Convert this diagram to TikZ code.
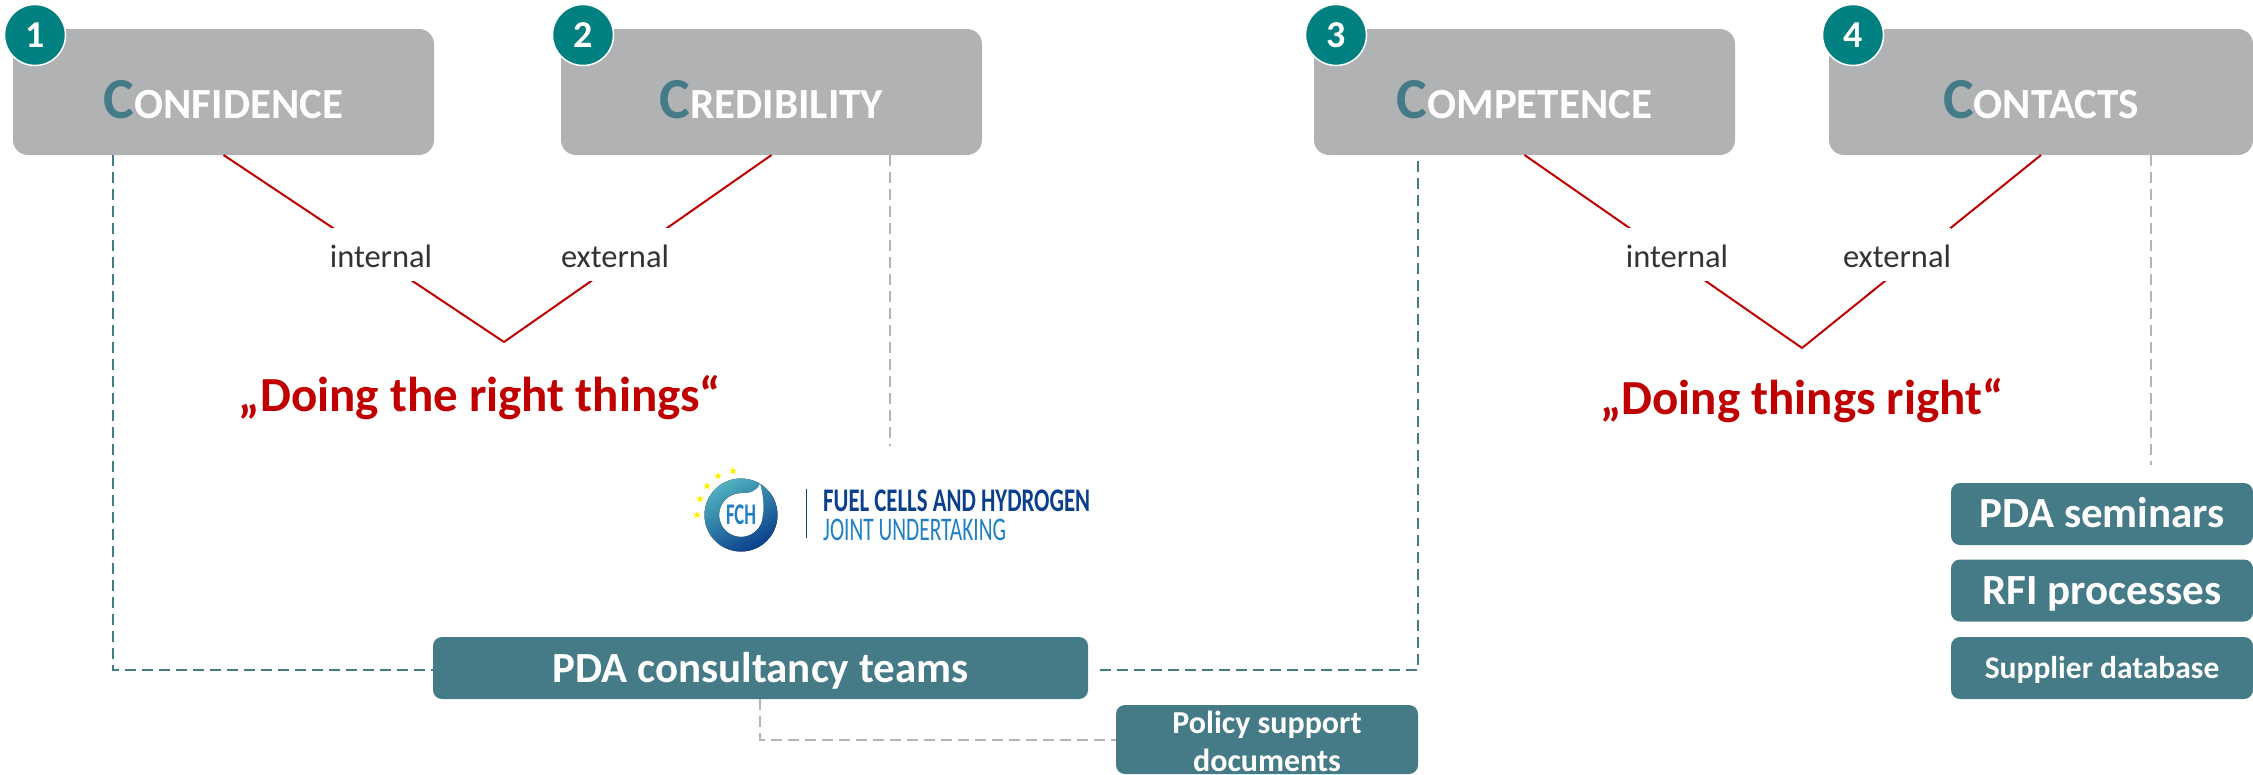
\documentclass[tikz,border=0pt]{standalone}
\usepackage{fontspec}
\setmainfont{Carlito}
\usetikzlibrary{shapes.geometric}
\definecolor{boxgray}{HTML}{B1B2B4}
\definecolor{boxteal}{HTML}{457B87}
\definecolor{numteal}{HTML}{008080}
\definecolor{linered}{HTML}{C00000}
\definecolor{dashgray}{HTML}{B5B5B5}
\definecolor{logoblue}{HTML}{0B3F8C}
\definecolor{logolight}{HTML}{1E7FC4}
\definecolor{logoteal}{HTML}{4FB0BE}
\newcommand{\lowered}[2]{\raisebox{-#1pt}[0pt][0pt]{#2}}
\newcommand{\fourc}[2]{\lowered{26}{{\color{boxteal}\fontsize{58}{60}\selectfont #1}\fontsize{43}{60}\selectfont #2}}
\tikzset{
  headbox/.style={fill=boxgray,rounded corners=15pt,minimum width=421pt,minimum height=126pt,outer sep=0pt,text=white,font=\bfseries},
  numdot/.style={circle,fill=numteal,draw=white,line width=1.5pt,minimum size=61pt,inner sep=0pt,text=white,font=\bfseries\fontsize{38}{40}\selectfont},
  tealbox/.style={fill=boxteal,rounded corners=9pt,outer sep=0pt,text=white,font=\bfseries\fontsize{43}{46}\selectfont,minimum height=62pt},
  sidelabel/.style={fill=white,minimum height=53pt,minimum width=104pt,inner sep=0pt,text=black!80,font=\fontsize{32.5}{34}\selectfont},
  slogan/.style={text=linered,font=\bfseries\fontsize{49}{52}\selectfont},
  redline/.style={linered,line width=2pt},
  tealdash/.style={boxteal,line width=2pt,dash pattern=on 11pt off 6pt},
  graydash/.style={dashgray,line width=2pt,dash pattern=on 11pt off 6pt},
  logostar/.style={star,star points=5,star point ratio=2.4,fill=yellow,inner sep=0pt,minimum size=8pt}
}
\begin{document}
\begin{tikzpicture}[x=1pt,y=-1pt]
\useasboundingbox (0,0) rectangle (2253,774);
%caixas de cima
\node[headbox] (confidence) at (223.5,92) {\fourc{C}{ONFIDENCE}};
\node[headbox] (credibility) at (771.5,92) {\fourc{C}{REDIBILITY}};
\node[headbox] (competence) at (1524.5,92) {\fourc{C}{OMPETENCE}};
\node[headbox,minimum width=424pt] (contacts) at (2041,92) {\fourc{C}{ONTACTS}};
%numeros
\node[numdot] (num1) at (35,35) {1};
\node[numdot] (num2) at (583,35) {2};
\node[numdot] (num3) at (1336,35) {3};
\node[numdot] (num4) at (1853,35) {4};
%caixas de baixo
\node[tealbox,minimum width=655pt] (teams) at (760.5,668) {\lowered{14}{PDA consultancy teams}};
\node[tealbox,minimum width=302pt,minimum height=69pt,font=\bfseries\fontsize{32}{38}\selectfont] (policy) at (1267,739.5) {\lowered{32}{\begin{tabular}[b]{@{}c@{}}Policy support\\documents\end{tabular}}};
\node[tealbox,minimum width=302pt] (seminars) at (2102,514) {\lowered{13}{PDA seminars}};
\node[tealbox,minimum width=302pt] (rfi) at (2102,590.5) {\lowered{14}{RFI processes}};
\node[tealbox,minimum width=302pt,font=\bfseries\fontsize{31.5}{34}\selectfont] (supplier) at (2102,668) {\lowered{10}{Supplier database}};
%linhas vermelhas
\coordinate (veeleft) at (504,342);
\coordinate (veeright) at (1802,348);
\draw[redline] (confidence.south) -- (veeleft) -- (credibility.south);
\draw[redline] (competence.south) -- (veeright) -- (contacts.south);
\node[sidelabel] (int1) at (381,254) {\lowered{13}{internal}};
\node[sidelabel] (ext1) at (615,254) {\lowered{13}{external}};
\node[sidelabel] (int2) at (1677,254) {\lowered{13}{internal}};
\node[sidelabel] (ext2) at (1897,254) {\lowered{13}{external}};
\node[slogan] (right1) at (480,398) {„Doing the right things“};
\node[slogan] (right2) at (1802,401) {„Doing things right“};
%tracejadas
\coordinate (bendconf) at (113,670);
\coordinate (bendcomp) at (1418,670);
\coordinate (endcred) at (890,446);
\coordinate (endcont) at (2151,465);
\coordinate (bendpol) at (760,739.5);
\coordinate (startcomp) at (1100,670);
\draw[tealdash] (confidence.south -| bendconf) -- (bendconf) -- (bendconf -| teams.west);
\draw[tealdash] (startcomp) -- (bendcomp) -- (competence.south -| bendcomp);
\draw[graydash] (credibility.south -| endcred) -- (endcred);
\draw[graydash] (contacts.south -| endcont) -- (endcont);
\draw[graydash] (teams.south -| bendpol) -- (bendpol) -- (policy.west);
%logo
\fill[left color=logoteal,middle color=logolight!70!logoblue,right color=logoblue,shading angle=30,even odd rule] (741,515) circle (36.5) (741,515) circle (22);
\fill[white] (741,493) .. controls (750,494) and (757,491) .. (760,484) .. controls (763,494) and (764,505) .. (763,515) -- cycle;
\node[text=logolight,inner sep=0pt,font=\bfseries\fontsize{30}{30}\selectfont] (fch) at (741,515) {\scalebox{.62}[1]{FCH}};
\foreach \sx/\sy/\sn in {697/515/a,700/499/b,707/486/c,718/476/d,733/471/e}
  \node[logostar] (star\sn) at (\sx,\sy) {};
\draw[logoblue,line width=1pt] (806,489) -- (806,538);
\node[anchor=west,inner sep=0pt,text=logoblue,font=\bfseries\fontsize{33}{34}\selectfont] (fuel) at (823,501) {\scalebox{.69}[1]{FUEL CELLS AND HYDROGEN}};
\node[anchor=west,inner sep=0pt,text=logolight,font=\fontsize{33}{34}\selectfont] (joint) at (823,530) {\scalebox{.648}[1]{JOINT UNDERTAKING}};
\end{tikzpicture}
\end{document}
